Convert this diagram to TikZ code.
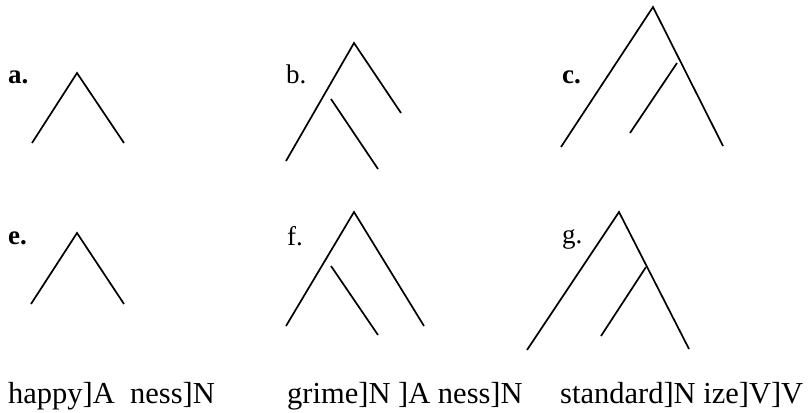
\documentclass[tikz,border=0pt]{standalone}
\usepackage{fontspec}
\setmainfont{Liberation Serif}
\begin{document}
\begin{tikzpicture}[x=1pt,y=-1pt,
  branch/.style={line width=1.7pt, line cap=butt},
  tag/.style={anchor=base west, inner sep=0pt, font=\fontsize{27}{30}\selectfont},
  heavytag/.style={tag, font=\fontsize{27}{30}\selectfont\bfseries},
  form/.style={anchor=base west, inner sep=0pt, font=\fontsize{30.5}{34}\selectfont}]
\useasboundingbox (0,0) rectangle (810,412);

% a. simple binary branch
\node[heavytag] (la) at (8,83) {a.};
\coordinate (aT) at (77,73);
\coordinate (aL) at (32,143);
\coordinate (aR) at (124,143);
\draw[branch] (aL) -- (aT) -- (aR);

% b. left-branching, inner arm detached
\node[tag] (lb) at (286,83) {b.};
\coordinate (bT) at (354,43);
\coordinate (bL) at (286,161);
\coordinate (bR) at (401,113);
\coordinate (bI1) at (331,99);
\coordinate (bI2) at (378,169);
\draw[branch] (bL) -- (bT) -- (bR);
\draw[branch] (bI1) -- (bI2);

% c. right-branching, inner arm detached
\node[heavytag] (lc) at (562,83) {c.};
\coordinate (cT) at (653,7);
\coordinate (cL) at (561,147);
\coordinate (cR) at (723,146);
\coordinate (cI1) at (677,63);
\coordinate (cI2) at (630,133);
\draw[branch] (cL) -- (cT) -- (cR);
\draw[branch] (cI1) -- (cI2);

% e. simple binary branch
\node[heavytag] (le) at (8,244) {e.};
\coordinate (eT) at (77,233);
\coordinate (eL) at (31,304);
\coordinate (eR) at (124,304);
\draw[branch] (eL) -- (eT) -- (eR);

% f. left-branching, inner arm detached
\node[tag] (lf) at (287,245) {f.};
\coordinate (fT) at (354,212);
\coordinate (fL) at (286,326);
\coordinate (fR) at (424,326);
\coordinate (fI1) at (331,266);
\coordinate (fI2) at (378,335);
\draw[branch] (fL) -- (fT) -- (fR);
\draw[branch] (fI1) -- (fI2);

% g. right-branching, inner arm joined
\node[tag] (lg) at (562,243) {g.};
\coordinate (gT) at (619,212);
\coordinate (gL) at (527,350);
\coordinate (gR) at (689,349);
\coordinate (gJ) at (646,267);
\coordinate (gI) at (601,336);
\draw[branch] (gL) -- (gT) -- (gR);
\draw[branch] (gJ) -- (gI);

% bracketed forms
\node[form] (w1) at (8,403) {happy]A\ \ ness]N};
\node[form] (w2) at (287,403) {grime]N ]A ness]N};
\node[form] (w3) at (560,403) {standard]N ize]V]V};
\end{tikzpicture}
\end{document}
